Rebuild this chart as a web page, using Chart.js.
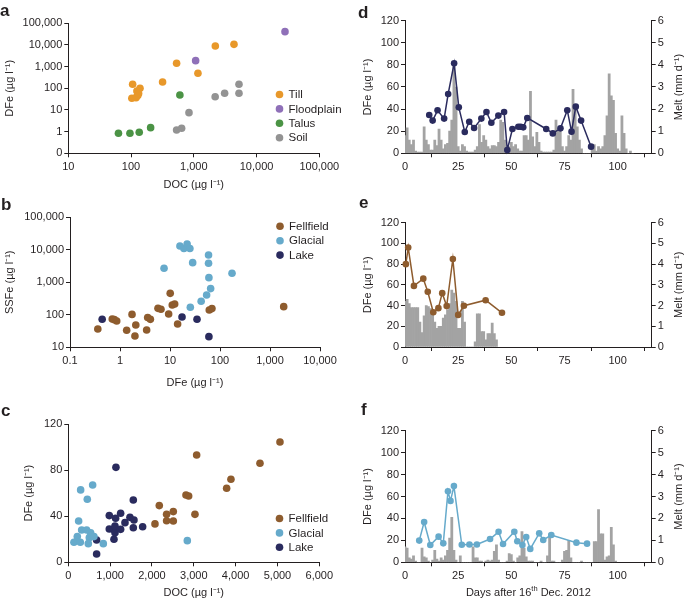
<!DOCTYPE html>
<html>
<head>
<meta charset="utf-8">
<script src="https://cdn.jsdelivr.net/npm/chart.js@4.4.1/dist/chart.umd.min.js"></script>
<style>
  body { margin: 0; background: #fff; }
  #wrap { position: relative; width: 685px; height: 601px; overflow: hidden; }
  #wrap canvas { position: absolute; left: 0; top: 0; }
  .tag { position: absolute; font: bold 17px "Liberation Sans", Arial, sans-serif; line-height: 17px; color: #231f20; }
</style>
</head>
<body>
<div id="wrap">
  <canvas id="canvas-a" width="685" height="601"></canvas>
  <canvas id="canvas-b" width="685" height="601"></canvas>
  <canvas id="canvas-c" width="685" height="601"></canvas>
  <canvas id="canvas-d" width="685" height="601"></canvas>
  <canvas id="canvas-e" width="685" height="601"></canvas>
  <canvas id="canvas-f" width="685" height="601"></canvas>
  <div class="tag" style="left:0px;top:2px">a</div>
  <div class="tag" style="left:1px;top:196px">b</div>
  <div class="tag" style="left:1px;top:402px">c</div>
  <div class="tag" style="left:358px;top:4px">d</div>
  <div class="tag" style="left:359px;top:194px">e</div>
  <div class="tag" style="left:361px;top:401px">f</div>
</div>
<script>
// panel a: DOC vs DFe by source
const tillDOC = [106, 103, 120, 128, 124, 139, 132, 318, 532, 1164, 2203, 4370];
const tillDFe = [153, 35, 37, 46, 75, 100, 58, 195, 1425, 492, 9000, 10700];
const floodDOC = [1070, 28400];
const floodDFe = [1890, 41200];
const talusDOC = [63, 96, 135, 205, 600];
const talusDFe = [0.84, 0.84, 0.94, 1.53, 49];
const soilDOC = [532, 640, 838, 2190, 3100, 5250, 5250];
const soilDFe = [1.19, 1.43, 7.5, 41, 59, 59, 153];

// panel b: DFe vs SSFe
const fellDFe = [0.36, 0.7, 0.77, 0.86, 1.36, 1.74, 2.07, 1.99, 3.41, 3.58, 4.05, 5.75, 6.6, 9.4, 10.1, 11.1, 12.4, 14.2, 61, 69, 1880];
const fellSSFe = [36.6, 74.5, 71, 64.6, 33.4, 103, 48.7, 22.3, 34, 83, 72.5, 158, 148, 106, 457, 200, 215, 52, 140, 155, 178];
const glacDFe = [7.6, 15.8, 19, 22, 25, 28.4, 25.5, 42, 54, 59, 59, 60, 65, 174];
const glacSSFe = [2700, 13100, 11000, 15000, 11000, 4030, 170, 260, 408, 6900, 3850, 1390, 640, 1890];
const lakeDFe = [0.44, 17.4, 34.7, 60];
const lakeSSFe = [73, 86, 73, 21.3];

// panel c: DOC vs DFe
const fellDOC = [2072, 2175, 2350, 2350, 2510, 2510, 2813, 2877, 3028, 3068, 3785, 3888, 4582, 5060];
const fellDFeC = [33.3, 49.2, 41.6, 36.1, 44, 35.9, 58.4, 57.5, 41.6, 93.1, 64.2, 72, 85.9, 104.4];
const glacDOC = [135, 215, 247, 295, 287, 319, 438, 454, 502, 478, 534, 582, 613, 837, 2845];
const glacDFeC = [17.4, 22.3, 35.9, 62.8, 17.4, 28, 28, 54.7, 21.4, 16.2, 25.7, 67.1, 22.3, 16.2, 18.8];
const lakeDOC = [677, 677, 980, 980, 1076, 1092, 1116, 1116, 1131, 1139, 1251, 1251, 1355, 1474, 1554, 1554, 1570, 1777];
const lakeDFeC = [19.4, 7.2, 40.5, 28.9, 28.6, 20, 25.7, 31.5, 38.2, 82.4, 42.5, 28.6, 34.4, 39, 54.1, 30, 36.7, 30.9];

// panels d-f: daily melt (mm/d, from day 0) and DFe samples
const meltD = [0.8, 1.15, 0.6, 0.4, 0.6, 0.1, 0.05, 0.05, 0.05, 1.2, 0.6, 0.4, 0.15, 0.15, 0.6, 0.35, 1.1, 0.6, 0.2, 0.4,
  0.45, 1.0, 1.5, 4.0, 3.0, 0.3, 0.1, 0.4, 0.3, 0.1, 0.05, 0.05, 0.05, 0.15, 0.3, 1.3, 0.5, 0.8, 0.6, 0.3,
  0.2, 0.35, 0.35, 0.3, 0.5, 1.5, 1.4, 0.6, 0.1, 0.3, 0.5, 0.3, 0.4, 0.2, 0.1, 0.1, 0.8, 0.8, 0.6, 2.8,
  0.75, 0.3, 0.95, 0.5, 0.1, 0.05, 0.05, 0.05, 0.05, 0.05, 0.15, 1.5, 1.0, 1.0, 0.3, 0.1, 0.3, 0.8, 0.6, 2.9,
  2.0, 1.2, 0.6, 0.2, 0, 0, 0, 0, 0.4, 0.4, 0.1, 0.3, 0.2, 0.3, 0.8, 1.7, 3.6, 2.6, 2.4, 0.9,
  0.2, 0.1, 1.7, 0.9, 0.2, 0, 0.1, 0];
const daysD = [11.4, 13, 15.3, 18.4, 20.3, 23.1, 25.3, 28.1, 30.2, 32.5, 35.9, 38.3, 40.6, 43.9, 46.6, 48.1, 50.5, 53.3, 54.4, 55.6, 57.5, 66.4, 69.5, 73.1, 76.3, 78.3, 80.3, 82.8, 87.5];
const dfeD = [34.7, 29.6, 38.9, 31.4, 53.7, 81.4, 41.6, 19.3, 28.6, 22.9, 31.4, 37.4, 27.7, 34.1, 37.4, 3, 22, 24, 24, 23.5, 32, 22, 18, 22.6, 39, 19.6, 42.2, 29.6, 6];

const meltE = [2.2, 2.3, 2.1, 1.9, 1.9, 1.9, 1.9, 1.2, 0.7, 1.5, 2.0, 1.95, 1.85, 1.55, 1.2, 0.9, 1.0, 1.0, 1.4, 1.55,
  1.8, 2.1, 2.75, 2.6, 2.2, 0.9, 0.9, 2.2, 1.2, 0, 0, 0, 0, 0.25, 1.6, 1.6, 0.75, 0.75, 0.35, 0.65,
  0.65, 1.15, 0.65, 0.35];
const daysE = [0.4, 1.5, 4.2, 8.6, 10.7, 13.3, 15.7, 17.5, 19.6, 22.5, 25, 27.7, 37.9, 45.6];
const dfeE = [80, 96, 59, 66, 53.4, 33.5, 37.5, 52, 39.5, 85, 31, 39.8, 45.2, 33];

const meltF = [0.7, 0.65, 0.2, 0.15, 0.3, 0.05, 0, 0, 0.65, 0.25, 0.2, 0.05, 0, 0.1, 0.55, 0.15, 0.05, 0.2, 0.1, 0.3,
  0.55, 1.1, 2.05, 0.55, 0.1, 0, 0.3, 0, 0, 0, 0, 0, 0.7, 0.2, 0.2, 0.05, 0.05, 0, 0.05, 0.1,
  0.05, 0.1, 0.5, 0.8, 0.1, 0, 0, 0, 0.05, 0.4, 0.35, 0.05, 0, 0.2, 0.3, 1.4, 0.65, 0.25, 0.05, 0.05,
  0.05, 0, 0, 0, 0.05, 0, 0, 0.3, 1.3, 0.05, 0.05, 0, 0, 0, 0.1, 0.5, 0.55, 1.0, 0.2, 0,
  0, 0, 0, 0.05, 0, 0, 0, 0, 0, 0.95, 0.95, 2.4, 1.3, 1.3, 0.1, 0.25, 0.3, 1.6, 0.8, 0.05];
const daysF = [6.7, 9, 11.9, 15.8, 18, 20.2, 21.4, 23, 26.7, 30.3, 33.8, 40, 44, 46.1, 51.4, 52.8, 55.2, 57, 58.9, 63.1, 65, 68.8, 80.6, 85.6];
const dfeF = [19.8, 36.8, 15.8, 23.4, 17.3, 64.8, 56, 69.5, 16, 16.2, 16.2, 21.2, 27.8, 16.7, 27.8, 19.2, 15.8, 23.1, 12.2, 26.4, 20.4, 24.9, 17.9, 17];

const decadesA = [10, 100, 1000, 10000, 100000];
const decadesAy = [0.1, 1, 10, 100, 1000, 10000, 100000];
const decadesBx = [0.1, 1, 10, 100, 1000, 10000];
const decadesBy = [10, 100, 1000, 10000, 100000];

const ink = "#231f20";
const unit = "(\u00b5g l\u207b\u00b9)";
const colTill = "#e8982a", colFlood = "#8f70b8", colTalus = "#4b9345", colSoil = "#939393";
const colFell = "#8e5c2e", colGlac = "#66aacb", colLake = "#2a2b5e", colBar = "#a3a3a3";

Chart.defaults.font.family = "'Liberation Sans', Arial, Helvetica, sans-serif";
Chart.defaults.font.size = 11;
Chart.defaults.color = ink;
Chart.defaults.animation = false;
Chart.defaults.responsive = false;
Chart.defaults.plugins.legend.display = false;
Chart.defaults.plugins.tooltip.enabled = false;

const zip = (xs, ys) => xs.map((x, i) => ({ x: x, y: ys[i] }));
const bars = (ys) => ys.map((y, i) => ({ x: i, y: y }));
const comma = (v) => (v < 1 ? String(v) : v.toLocaleString("en-US"));

// place the plot area at page coordinates (all canvases cover the page)
function frame(f) {
  const half = 6.6;
  const left = f.yTitle - half;
  const bottom = f.xTitle + half;
  return {
    padding: { left: left, top: f.top, right: 685 - f.right - (f.rightW || 0), bottom: 601 - bottom },
    yWidth: f.left - left,
    xHeight: bottom - f.bottom,
  };
}

function axis(o, size, horizontal) {
  const out = Object.assign({}, o, {
    grid: { drawOnChartArea: false, tickLength: 4, color: ink },
    border: { color: ink },
    ticks: Object.assign({ color: ink, padding: horizontal ? 3 : 2, autoSkip: false, maxRotation: 0 }, o.ticks || {}),
    title: o.title ? { display: true, text: o.title, padding: 0, color: ink } : { display: false },
    afterFit: (s) => { if (horizontal) s.height = size; else s.width = size; },
  });
  return out;
}

const insideLegend = {
  id: "insideLegend",
  afterDraw(chart, args, opts) {
    const ctx = chart.ctx;
    ctx.save();
    ctx.font = "11.5px 'Liberation Sans', Arial, sans-serif";
    ctx.textBaseline = "middle";
    chart.data.datasets.forEach((ds, i) => {
      const y = opts.y + i * opts.gap;
      ctx.fillStyle = ds.backgroundColor;
      ctx.beginPath();
      ctx.arc(opts.x, y, 3.8, 0, Math.PI * 2);
      ctx.fill();
      ctx.fillStyle = ink;
      ctx.fillText(ds.label, opts.x + 9, y + 0.5);
    });
    ctx.restore();
  },
};

const sideTitles = {
  id: "sideTitles",
  afterDraw(chart, args, opts) {
    const { ctx, chartArea } = chart;
    ctx.save();
    ctx.fillStyle = ink;
    ctx.textBaseline = "middle";
    ctx.font = "11px 'Liberation Sans', Arial, sans-serif";
    if (opts.right) {
      ctx.save();
      ctx.textAlign = "center";
      ctx.translate(opts.right.x, (chartArea.top + chartArea.bottom) / 2);
      ctx.rotate(-Math.PI / 2);
      ctx.fillText(opts.right.text, 0, 0);
      ctx.restore();
    }
    if (opts.bottom) {
      const big = "11px 'Liberation Sans', Arial, sans-serif";
      const small = "7.5px 'Liberation Sans', Arial, sans-serif";
      let total = 0;
      opts.bottom.parts.forEach((p) => { ctx.font = p.sup ? small : big; total += ctx.measureText(p.text).width; });
      let x = (chartArea.left + chartArea.right) / 2 - total / 2;
      ctx.textAlign = "left";
      opts.bottom.parts.forEach((p) => {
        ctx.font = p.sup ? small : big;
        ctx.fillText(p.text, x, opts.bottom.y - (p.sup ? 4 : 0));
        x += ctx.measureText(p.text).width;
      });
    }
    ctx.restore();
  },
};

function scatterSet(label, xs, ys, color) {
  return { label: label, data: zip(xs, ys), backgroundColor: color, borderColor: color, pointRadius: 3.8, borderWidth: 0 };
}

// ---- a ----
const fa = frame({ left: 68.3, top: 23.3, right: 319.3, bottom: 153.3, yTitle: 10.3, xTitle: 185 });
new Chart(document.getElementById("canvas-a"), {
  type: "scatter",
  plugins: [insideLegend],
  data: {
    datasets: [
      scatterSet("Till", tillDOC, tillDFe, colTill),
      scatterSet("Floodplain", floodDOC, floodDFe, colFlood),
      scatterSet("Talus", talusDOC, talusDFe, colTalus),
      scatterSet("Soil", soilDOC, soilDFe, colSoil),
    ],
  },
  options: {
    layout: { padding: fa.padding },
    plugins: { insideLegend: { x: 279.5, y: 94.5, gap: 14.4 } },
    scales: {
      x: axis({ type: "logarithmic", min: 10, max: 100000, title: "DOC " + unit,
        afterBuildTicks: (s) => { s.ticks = decadesA.map((v) => ({ value: v })); },
        ticks: { callback: (v) => comma(v) } }, fa.xHeight, true),
      y: axis({ type: "logarithmic", min: 0.1, max: 100000, title: "DFe " + unit,
        afterBuildTicks: (s) => { s.ticks = decadesAy.map((v) => ({ value: v })); },
        ticks: { callback: (v) => (v < 1 ? "0" : comma(v)) } }, fa.yWidth, false),
    },
  },
});

// ---- b ----
const fb = frame({ left: 70, top: 217.3, right: 320, bottom: 347.3, yTitle: 10, xTitle: 382.7 });
new Chart(document.getElementById("canvas-b"), {
  type: "scatter",
  plugins: [insideLegend],
  data: {
    datasets: [
      scatterSet("Fellfield", fellDFe, fellSSFe, colFell),
      scatterSet("Glacial", glacDFe, glacSSFe, colGlac),
      scatterSet("Lake", lakeDFe, lakeSSFe, colLake),
    ],
  },
  options: {
    layout: { padding: fb.padding },
    plugins: { insideLegend: { x: 280, y: 226.3, gap: 14.4 } },
    scales: {
      x: axis({ type: "logarithmic", min: 0.1, max: 10000, title: "DFe " + unit,
        afterBuildTicks: (s) => { s.ticks = decadesBx.map((v) => ({ value: v })); },
        ticks: { callback: (v) => comma(v) } }, fb.xHeight, true),
      y: axis({ type: "logarithmic", min: 10, max: 100000, title: "SSFe " + unit,
        afterBuildTicks: (s) => { s.ticks = decadesBy.map((v) => ({ value: v })); },
        ticks: { callback: (v) => comma(v) } }, fb.yWidth, false),
    },
  },
});

// ---- c ----
const fc = frame({ left: 68.3, top: 424, right: 319.3, bottom: 562.3, yTitle: 29.3, xTitle: 592.7 });
new Chart(document.getElementById("canvas-c"), {
  type: "scatter",
  plugins: [insideLegend],
  data: {
    datasets: [
      scatterSet("Fellfield", fellDOC, fellDFeC, colFell),
      scatterSet("Glacial", glacDOC, glacDFeC, colGlac),
      scatterSet("Lake", lakeDOC, lakeDFeC, colLake),
    ],
  },
  options: {
    layout: { padding: fc.padding },
    plugins: { insideLegend: { x: 279.5, y: 518.5, gap: 14.4 } },
    scales: {
      x: axis({ type: "linear", min: 0, max: 6000, title: "DOC " + unit,
        ticks: { stepSize: 1000, callback: (v) => comma(v) } }, fc.xHeight, true),
      y: axis({ type: "linear", min: 0, max: 120, title: "DFe " + unit,
        ticks: { stepSize: 40 } }, fc.yWidth, false),
    },
  },
});

// ---- d, e, f: melt bars + DFe line ----
function timePanel(id, box, melt, days, dfe, color, xTitle) {
  const f = frame(Object.assign({ rightW: 30, xTitle: box.bottom + 30 }, box));
  new Chart(document.getElementById(id), {
    type: "bar",
    plugins: [sideTitles],
    data: {
      datasets: [
        { type: "line", data: zip(days, dfe), yAxisID: "y", borderColor: color, backgroundColor: color,
          borderWidth: 1.5, pointRadius: 3.3, pointBorderWidth: 0, tension: 0, order: 1, clip: false },
        { type: "bar", data: bars(melt), yAxisID: "y2", backgroundColor: colBar, borderWidth: 0,
          barPercentage: 1, categoryPercentage: 1, order: 2 },
      ],
    },
    options: {
      layout: { padding: f.padding },
      plugins: {
        sideTitles: {
          right: { x: 679.3, text: "Melt (mm d\u207b\u00b9)" },
          bottom: xTitle ? { y: xTitle, parts: [{ text: "Days after 16" }, { text: "th", sup: true }, { text: " Dec. 2012" }] } : null,
        },
      },
      scales: {
        x: axis({ type: "linear", min: 0, max: 116, offset: false,
          ticks: { stepSize: 25, includeBounds: false } }, f.xHeight, true),
        y: axis({ type: "linear", position: "left", min: 0, max: 120, title: "DFe " + unit,
          ticks: { stepSize: 20 } }, f.yWidth, false),
        y2: axis({ type: "linear", position: "right", min: 0, max: 6,
          ticks: { stepSize: 1 } }, 30, false),
      },
    },
  });
}

timePanel("canvas-d", { left: 405, top: 20.7, right: 651.7, bottom: 153.3, yTitle: 368.3 }, meltD, daysD, dfeD, colLake, null);
timePanel("canvas-e", { left: 405, top: 222.7, right: 651.7, bottom: 347, yTitle: 368.3 }, meltE, daysE, dfeE, colFell, null);
timePanel("canvas-f", { left: 405, top: 430.7, right: 651.7, bottom: 562.3, yTitle: 368.3 }, meltF, daysF, dfeF, colGlac, 592.7);
</script>
</body>
</html>
